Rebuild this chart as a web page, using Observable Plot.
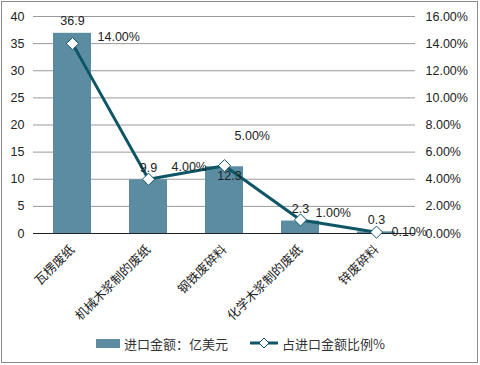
<!DOCTYPE html>
<html>
<head>
<meta charset="utf-8">
<script src="https://cdn.jsdelivr.net/npm/d3@7"></script>
<script src="https://cdn.jsdelivr.net/npm/@observablehq/plot@0.6"></script>
<style>
  html, body { margin: 0; padding: 0; background: #fff; }
  #wrap { position: relative; width: 480px; height: 365px; overflow: hidden; font-family: "Liberation Sans", Arial, "Noto Sans CJK SC", sans-serif; }
  #chart { position: absolute; left: 0; top: 0; }
  #frame { position: absolute; left: 1px; top: 1px; width: 475px; height: 360px; border: 1px solid #8c8c8c; pointer-events: none; }
  #legend { position: absolute; left: 0; top: 334px; width: 480px; height: 18px; font-size: 13px; color: #333; font-family: "Noto Sans CJK SC", "Liberation Sans", sans-serif; }
  .item { position: absolute; top: 0; display: flex; align-items: center; height: 18px; }
</style>
</head>
<body>
<div id="wrap">
  <div id="chart"></div>
  <div id="legend"></div>
  <div id="frame"></div>
</div>
<script>
const categories = ["瓦楞废纸", "机械木浆制的废纸", "钢铁废碎料", "化学木浆制的废纸", "锌废碎料"];
const amounts = [36.9, 9.9, 12.3, 2.3, 0.3];
const shares = [14.0, 4.0, 5.0, 1.0, 0.1];
const leftTicks = [0, 5, 10, 15, 20, 25, 30, 35, 40];
const rightTicks = [0, 2, 4, 6, 8, 10, 12, 14, 16];
const seriesNames = ["进口金额：亿美元", "占进口金额比例%"];

const k = 40 / 16;
const data = categories.map((c, i) => ({cat: c, amt: amounts[i], share: shares[i], idx: i}));

const barColor = "#5b8ca2";
const lineColor = "#0e5566";
const font = '"Liberation Sans", Arial, "Noto Sans CJK SC", sans-serif';

const pctOffsets = [[25, -7], [23, -12], [10, -30], [15, -7], [15, 0]];

const marks = [
  Plot.ruleY(leftTicks, {stroke: "#9a9a9a", strokeWidth: 1}),
  Plot.barY(data, {x: "cat", y: "amt", fill: barColor}),
  Plot.ruleY([0], {stroke: "#222", strokeWidth: 1}),
  Plot.line(data, {x: "cat", y: d => d.share * k, stroke: lineColor, strokeWidth: 3}),
  Plot.dot(data, {x: "cat", y: d => d.share * k, symbol: "diamond2", r: 5.5, fill: "white", stroke: lineColor, strokeWidth: 1}),
  Plot.text(data, {filter: d => d.idx !== 2, x: "cat", y: "amt", text: d => d.amt.toFixed(1), dy: -12, fontSize: 12.5, fill: "#222"}),
  Plot.text(data, {filter: d => d.idx === 2, x: "cat", y: "amt", text: d => d.amt.toFixed(1), dy: 9, dx: 5, fontSize: 12.5, fill: "#222"}),
  ...pctOffsets.map(([dx, dy], j) => Plot.text(data, {filter: d => d.idx === j, x: "cat", y: d => d.share * k, text: d => d.share.toFixed(2) + "%", textAnchor: "start", dx, dy, fontSize: 12.5, fill: "#222"})),
  Plot.axisY(leftTicks, {anchor: "left", tickSize: 0, tickPadding: 9, fontSize: 12.5, label: null, color: "#222"}),
  Plot.axisY(rightTicks.map(t => t * k), {anchor: "right", tickSize: 0, tickPadding: 10, fontSize: 12.5, label: null, tickFormat: d => (d / k).toFixed(2) + "%", color: "#222"}),
  Plot.axisX({tickSize: 0, tickPadding: 14, dx: 0, tickRotate: -45, fontSize: 12.5, label: null, fontFamily: '"Noto Sans CJK SC", sans-serif', color: "#222"})
];

const chart = Plot.plot({
  width: 480,
  height: 332,
  marginLeft: 33,
  marginRight: 65,
  marginTop: 16,
  marginBottom: 99,
  style: {fontFamily: font, background: "transparent"},
  x: {domain: categories, paddingInner: 0.5, paddingOuter: 0.25},
  y: {domain: [0, 40]},
  marks
});
document.getElementById("chart").appendChild(chart);

const legend = document.getElementById("legend");
legend.innerHTML = `
  <div class="item" style="left:96px"><span style="display:inline-block;width:24px;height:9px;background:${barColor};margin-right:4px"></span>${seriesNames[0]}</div>
  <div class="item" style="left:250px"><svg width="30" height="18" style="margin-right:2px"><line x1="0" y1="9" x2="28" y2="9" stroke="${lineColor}" stroke-width="3"/><path d="M14,4 L19,9 L14,14 L9,9 Z" fill="white" stroke="${lineColor}"/></svg>${seriesNames[1]}</div>
`;
</script>
</body>
</html>
